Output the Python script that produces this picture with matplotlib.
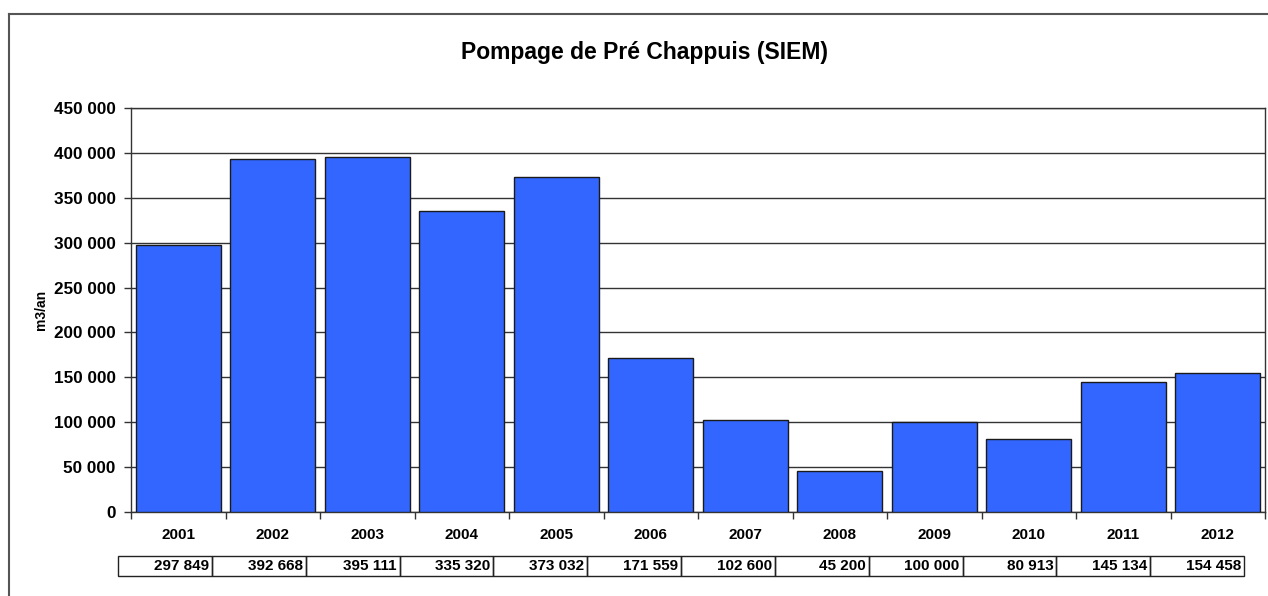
import numpy as np
import matplotlib
matplotlib.use('Agg')
import matplotlib.pyplot as plt
from matplotlib.patches import Rectangle
from matplotlib.lines import Line2D

plt.rcParams['font.family'] = ['Liberation Sans', 'DejaVu Sans']

years = ['2001', '2002', '2003', '2004', '2005', '2006',
         '2007', '2008', '2009', '2010', '2011', '2012']
volumes = [297849, 392668, 395111, 335320, 373032, 171559,
           102600, 45200, 100000, 80913, 145134, 154458]
yticks = np.arange(0, 450001, 50000)

narrow = ['Liberation Sans Narrow', 'Liberation Sans', 'DejaVu Sans']


def fmt(v):
    return f'{int(v):,}'.replace(',', ' ')


W, H = 1268, 596
fig = plt.figure(figsize=(W / 100, H / 100), dpi=100)

# outer chart frame (only top and left visible)
fig.add_artist(Line2D([9 / W, 1], [1 - 14 / H, 1 - 14 / H], color='#555555', lw=1.5))
fig.add_artist(Line2D([9 / W, 9 / W], [1 - 14 / H, 0], color='#555555', lw=1.5))

ax = fig.add_axes([131 / W, 84 / H, 1134 / W, 404 / H])
x = np.arange(len(years))
ax.bar(x, volumes, width=0.9, color='#3366FF', edgecolor='#1a1a1a', linewidth=1, zorder=3)

ax.set_xlim(-0.5, len(years) - 0.5)
ax.set_ylim(0, 450000)
ax.set_yticks(yticks)
ax.set_yticklabels([fmt(v) for v in yticks], fontsize=12.3, fontweight='bold')
ax.yaxis.grid(True, color='#333333', lw=1, zorder=0)

# category ticks sit between the bars
ax.set_xticks(np.arange(len(years) + 1) - 0.5)
ax.set_xticklabels([])
ax.tick_params(axis='both', direction='out', length=5, width=1, color='#333333')
ax.tick_params(axis='y', pad=6)
for s in ax.spines.values():
    s.set_color('#333333')
    s.set_linewidth(1)

for i, yr in enumerate(years):
    ax.text(i, -0.058, yr, transform=ax.get_xaxis_transform(), ha='center', va='center',
            fontsize=11, fontweight='bold', family=narrow)

ax.set_ylabel('m3/an', fontsize=10, fontweight='bold')
ax.yaxis.set_label_coords(-0.073, 0.5)

fig.text(645 / W, 1 - 52 / H, 'Pompage de Pré Chappuis (SIEM)', ha='center', va='center',
         fontsize=16.5, fontweight='bold')

# data table under the axis
cw = (1244 - 118) / len(years)
top, bot = 556, 576
for i, v in enumerate(volumes):
    x0 = 118 + i * cw
    fig.add_artist(Rectangle((x0 / W, 1 - bot / H), cw / W, (bot - top) / H,
                             transform=fig.transFigure, fill=False,
                             edgecolor='#222222', lw=1))
    fig.text((x0 + cw - 3) / W, 1 - (top + bot) / 2 / H, fmt(v), ha='right', va='center',
             fontsize=11, fontweight='bold', family=narrow)

fig.savefig('out.png', dpi=100)
